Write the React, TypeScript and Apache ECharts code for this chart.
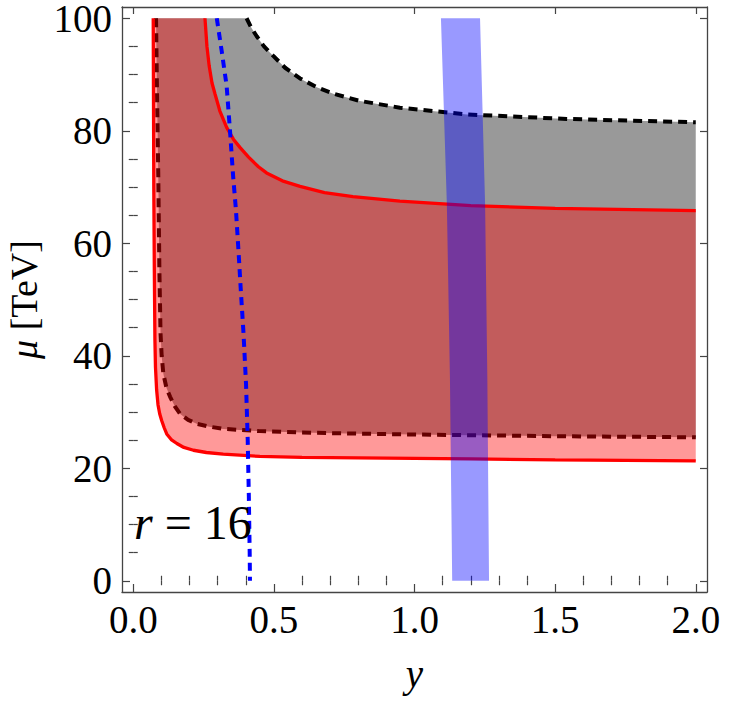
import React, { useEffect, useRef } from "react";
import * as echarts from "echarts";

// ---- axis ticks ----
const xMajor = [0, 0.5, 1, 1.5, 2];
const xTickLabels = ["0.0", "0.5", "1.0", "1.5", "2.0"];
const xMinor = [0.1, 0.2, 0.3, 0.4, 0.6, 0.7, 0.8, 0.9, 1.1, 1.2, 1.3, 1.4, 1.6, 1.7, 1.8, 1.9];
const yMajor = [0, 20, 40, 60, 80, 100];
const yTickLabels = ["0", "20", "40", "60", "80", "100"];
const yMinor = [5, 10, 15, 25, 30, 35, 45, 50, 55, 65, 70, 75, 85, 90, 95];

// ---- curves ----
const redLowerX = [0.071, 0.072, 0.073, 0.075, 0.077, 0.079, 0.083, 0.088, 0.094, 0.101, 0.11, 0.119, 0.135, 0.155, 0.18, 0.214, 0.26, 0.32, 0.45, 0.6, 0.8, 1.0, 1.2, 1.5, 2.0];
const redLowerY = [100, 85, 70, 55, 43, 38, 34, 31.3, 29.7, 28.5, 27.2, 26.1, 25.1, 24.4, 23.7, 23.2, 22.8, 22.5, 22.1, 21.95, 21.85, 21.75, 21.65, 21.5, 21.3];

const redUpperX = [0.255, 0.262, 0.27, 0.28, 0.291, 0.308, 0.332, 0.356, 0.38, 0.41, 0.445, 0.474, 0.53, 0.593, 0.68, 0.781, 0.948, 1.2, 1.5, 2.0];
const redUpperY = [100, 95, 91.5, 88.5, 86.5, 83.5, 80.6, 78.5, 77.0, 75.3, 73.6, 72.5, 71.1, 70.1, 69.0, 68.3, 67.5, 66.7, 66.2, 65.8];

const dashLowerX = [0.081, 0.085, 0.089, 0.093, 0.097, 0.101, 0.107, 0.118, 0.131, 0.148, 0.166, 0.195, 0.226, 0.27, 0.32, 0.45, 0.6, 0.8, 1.0, 1.5, 2.0];
const dashLowerY = [100, 85, 72, 55, 44, 40, 36.8, 34.3, 32.7, 31, 29.7, 28.6, 27.9, 27.4, 27.0, 26.6, 26.35, 26.15, 26.0, 25.7, 25.5];

const dashUpperX = [0.403, 0.42, 0.439, 0.465, 0.498, 0.54, 0.593, 0.65, 0.711, 0.806, 0.948, 1.186, 1.541, 2.0];
const dashUpperY = [100, 98.3, 96.8, 95, 93.3, 91.2, 89.3, 87.8, 86.6, 85.3, 84.1, 82.9, 82.1, 81.5];

const blueX = [0.297, 0.315, 0.332, 0.344, 0.355, 0.365, 0.375, 0.382, 0.392, 0.401, 0.407, 0.411, 0.414, 0.415];
const blueY = [100, 94, 88, 80, 72, 66, 58, 52, 44, 35, 25, 15, 5, 0];

const bandY = [100, 67, 36, 0];
const bandLeftX = [1.094, 1.115, 1.126, 1.134];
const bandRightX = [1.233, 1.251, 1.259, 1.265];

const zip = (xs: number[], ys: number[]) => xs.map((x, i) => [x, ys[i]]);

const FONT = "'Liberation Serif', 'Times New Roman', Times, serif";
const FRAME = "#444";

export default function App() {
  const ref = useRef<HTMLDivElement>(null);
  useEffect(() => {
    if (!ref.current) return;
    const chart = echarts.init(ref.current, null, { renderer: "svg" });

    const redLower = zip(redLowerX, redLowerY);
    const redUpper = zip(redUpperX, redUpperY);
    const dashLower = zip(dashLowerX, dashLowerY);
    const dashUpper = zip(dashUpperX, dashUpperY);
    const blue = zip(blueX, blueY);
    const pinkPoly = [...redLower, ...redUpper.slice().reverse()];
    const grayPoly = [...dashLower, ...dashUpper.slice().reverse()];
    const bandPoly = [
      ...zip(bandLeftX, bandY),
      ...zip(bandRightX, bandY).reverse(),
    ];

    const polySeries = (pts: number[][], fill: string, z: number) => ({
      type: "custom",
      coordinateSystem: "cartesian2d",
      xAxisIndex: 0,
      yAxisIndex: 0,
      silent: true,
      z,
      data: [[1, 50]],
      renderItem: (_p: any, api: any) => ({
        type: "polygon",
        shape: { points: pts.map((p) => api.coord(p)) },
        style: { fill, stroke: "none" },
      }),
    });

    const lineSeries = (data: number[][], color: string, width: number, type: any, z: number) => ({
      type: "line",
      data,
      showSymbol: false,
      symbol: "none",
      silent: true,
      z,
      lineStyle: { color, width, type, cap: "butt" },
    });

    const tickStyle = { color: FRAME, width: 1.2 };
    const xBase = { type: "value", min: -0.04, max: 2.04, gridIndex: 0, splitLine: { show: false } };
    const yBase = { type: "value", min: -2, max: 102, gridIndex: 0, splitLine: { show: false } };

    chart.setOption({
      animation: false,
      backgroundColor: "#fff",
      grid: { left: 122, top: 7, width: 585, height: 585, containLabel: false, outerBoundsMode: "none" },
      xAxis: [
        {
          ...xBase,
          position: "bottom",
          axisLine: { show: true, onZero: false, lineStyle: { color: FRAME, width: 1.3 } },
          axisTick: { show: true, inside: true, length: 8, customValues: xMajor, lineStyle: tickStyle },
          axisLabel: {
            show: true,
            customValues: xMajor,
            formatter: (v: number) => xTickLabels[xMajor.indexOf(v)] ?? "",
            fontFamily: FONT,
            fontSize: 39,
            lineHeight: 30,
            color: "#000",
            margin: 12,
          },
          name: "y",
          nameLocation: "middle",
          nameGap: 62,
          nameTextStyle: { fontFamily: FONT, fontStyle: "italic", fontSize: 39, color: "#000" },
        },
        {
          ...xBase,
          position: "bottom",
          axisLine: { show: false },
          axisTick: { show: true, inside: true, length: 5, customValues: xMinor, lineStyle: tickStyle },
          axisLabel: { show: false },
        },
        {
          ...xBase,
          position: "top",
          axisLine: { show: true, onZero: false, lineStyle: { color: FRAME, width: 1.3 } },
          axisTick: { show: true, inside: true, length: 7, customValues: xMajor, lineStyle: tickStyle },
          axisLabel: { show: false },
        },
        {
          ...xBase,
          position: "top",
          axisLine: { show: false },
          axisTick: { show: true, inside: true, length: 4.5, customValues: xMinor, lineStyle: tickStyle },
          axisLabel: { show: false },
        },
      ],
      yAxis: [
        {
          ...yBase,
          position: "left",
          axisLine: { show: true, onZero: false, lineStyle: { color: FRAME, width: 1.3 } },
          axisTick: { show: true, inside: true, length: 8, customValues: yMajor, lineStyle: tickStyle },
          axisLabel: {
            show: true,
            customValues: yMajor,
            formatter: (v: number) => yTickLabels[yMajor.indexOf(v)] ?? "",
            fontFamily: FONT,
            fontSize: 39,
            lineHeight: 30,
            color: "#000",
            margin: 10,
          },
          name: "{i|μ} [TeV]",
          nameLocation: "middle",
          nameRotate: 90,
          nameGap: 78,
          nameTextStyle: {
            fontFamily: FONT,
            fontSize: 38,
            color: "#000",
            rich: { i: { fontFamily: FONT, fontStyle: "italic", fontSize: 38, color: "#000" } },
          },
        },
        {
          ...yBase,
          position: "left",
          axisLine: { show: false },
          axisTick: { show: true, inside: true, length: 4.5, customValues: yMinor, lineStyle: tickStyle },
          axisLabel: { show: false },
        },
        {
          ...yBase,
          position: "right",
          axisLine: { show: true, onZero: false, lineStyle: { color: FRAME, width: 1.3 } },
          axisTick: { show: true, inside: true, length: 7, customValues: yMajor, lineStyle: tickStyle },
          axisLabel: { show: false },
        },
        {
          ...yBase,
          position: "right",
          axisLine: { show: false },
          axisTick: { show: true, inside: true, length: 4.5, customValues: yMinor, lineStyle: tickStyle },
          axisLabel: { show: false },
        },
      ],
      series: [
        polySeries(grayPoly, "rgba(0,0,0,0.4)", 1),
        lineSeries(dashLower, "#000", 4, [9, 6], 2),
        lineSeries(dashUpper, "#000", 4, [9, 6], 2),
        polySeries(pinkPoly, "rgba(255,0,0,0.4)", 3),
        lineSeries(redLower, "#ff0000", 3.3, "solid", 4),
        lineSeries(redUpper, "#ff0000", 3.3, "solid", 4),
        lineSeries(blue, "#0000ff", 4, [8, 6], 5),
        polySeries(bandPoly, "rgba(0,0,255,0.4)", 6),
      ],
      graphic: [
        {
          type: "text",
          left: 134,
          top: 498,
          z: 10,
          style: {
            text: "{i|r} = 16",
            fontFamily: FONT,
            fontSize: 48,
            fill: "#000",
            rich: { i: { fontFamily: FONT, fontStyle: "italic", fontSize: 48, fill: "#000" } },
          },
        },
      ],
    });
    return () => chart.dispose();
  }, []);
  return <div ref={ref} style={{ position: "absolute", left: 0, top: 0, width: 729, height: 711 }} />;
}
